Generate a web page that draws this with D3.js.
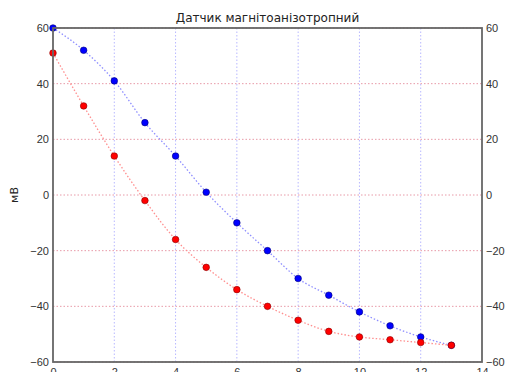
<!DOCTYPE html>
<html>
<head>
<meta charset="utf-8">
<script src="https://cdn.jsdelivr.net/npm/d3@7"></script>
<style>
  body { margin: 0; background: #fff; }
  svg { font-family: "DejaVu Sans", sans-serif; }
  .tick text { fill: #333; font-size: 11px; }
</style>
</head>
<body>
<svg width="506" height="372"></svg>
<script>
// x positions of the measurements
const xs = [0, 1, 2, 3, 4, 5, 6, 7, 8, 9, 10, 11, 12, 13];
// blue series (mV)
const blueVals = [60, 52, 41, 26, 14, 1, -10, -20, -30, -36, -42, -47, -51, -54];
// red series (mV)
const redVals = [51, 32, 14, -2, -16, -26, -34, -40, -45, -49, -51, -52, -53, -54];
// ticks
const xTicks = [0, 2, 4, 6, 8, 10, 12, 14];
const yTicks = [-60, -40, -20, 0, 20, 40, 60];

const svg = d3.select("svg");
const padL = 53, padR = 482, padT = 28, padB = 362;

const x = d3.scaleLinear().domain([0, 14]).range([padL, padR]);
const y = d3.scaleLinear().domain([-60, 60]).range([padB, padT]);

// grid lines
svg.append("g").selectAll("line")
  .data(xTicks.slice(1, -1))
  .enter().append("line")
    .attr("x1", d => x(d)).attr("x2", d => x(d))
    .attr("y1", padT).attr("y2", padB)
    .attr("stroke", "#b8b8ff").attr("stroke-width", 1)
    .attr("stroke-dasharray", "1.5,2");

svg.append("g").selectAll("line")
  .data(yTicks)
  .enter().append("line")
    .attr("x1", padL).attr("x2", padR)
    .attr("y1", d => y(d)).attr("y2", d => y(d))
    .attr("stroke", "#e89aa8").attr("stroke-width", 1)
    .attr("stroke-dasharray", "1.5,2");

// curves
const line = d3.line()
  .x((d, i) => x(xs[i]))
  .y(d => y(d))
  .curve(d3.curveMonotoneX);

svg.append("path").datum(blueVals)
  .attr("d", line).attr("fill", "none")
  .attr("stroke", "#8f8fff").attr("stroke-width", 1.3)
  .attr("stroke-dasharray", "1.5,2");

svg.append("path").datum(redVals)
  .attr("d", line).attr("fill", "none")
  .attr("stroke", "#ff8f8f").attr("stroke-width", 1.3)
  .attr("stroke-dasharray", "1.5,2");

// points
svg.append("g").selectAll("circle")
  .data(blueVals)
  .enter().append("circle")
    .attr("cx", (d, i) => x(xs[i])).attr("cy", d => y(d))
    .attr("r", 3.3).attr("fill", "#0000ff").attr("stroke", "#00007a").attr("stroke-width", 0.6);

svg.append("g").selectAll("circle")
  .data(redVals)
  .enter().append("circle")
    .attr("cx", (d, i) => x(xs[i])).attr("cy", d => y(d))
    .attr("r", 3.3).attr("fill", "#ff0000").attr("stroke", "#8a0000").attr("stroke-width", 0.6);

// frame
svg.append("rect")
  .attr("x", padL).attr("y", padT)
  .attr("width", padR - padL).attr("height", padB - padT)
  .attr("fill", "none").attr("stroke", "#666").attr("stroke-width", 1.8);

// axes
const fmt = d => d < 0 ? "\u2212" + Math.abs(d) : String(d);

const xAxis = svg.append("g")
  .attr("transform", `translate(0,${padB})`)
  .call(d3.axisBottom(x).tickValues(xTicks).tickFormat(fmt).tickSize(0).tickPadding(6));
const yLeft = svg.append("g")
  .attr("transform", `translate(${padL},0)`)
  .call(d3.axisLeft(y).tickValues(yTicks).tickFormat(fmt).tickSize(0).tickPadding(4));
const yRight = svg.append("g")
  .attr("transform", `translate(${padR},0)`)
  .call(d3.axisRight(y).tickValues(yTicks).tickFormat(fmt).tickSize(0).tickPadding(4));
[xAxis, yLeft, yRight].forEach(g => g.select(".domain").remove());

// title and label
svg.append("text")
  .attr("x", (padL + padR) / 2).attr("y", 22)
  .attr("text-anchor", "middle")
  .attr("font-size", 12).attr("fill", "#222")
  .text("Датчик магнітоанізотропний");

svg.append("text")
  .attr("transform", `translate(18,${(padT + padB) / 2}) rotate(-90)`)
  .attr("text-anchor", "middle")
  .attr("font-size", 11).attr("fill", "#222")
  .text("мВ");
</script>
</body>
</html>
